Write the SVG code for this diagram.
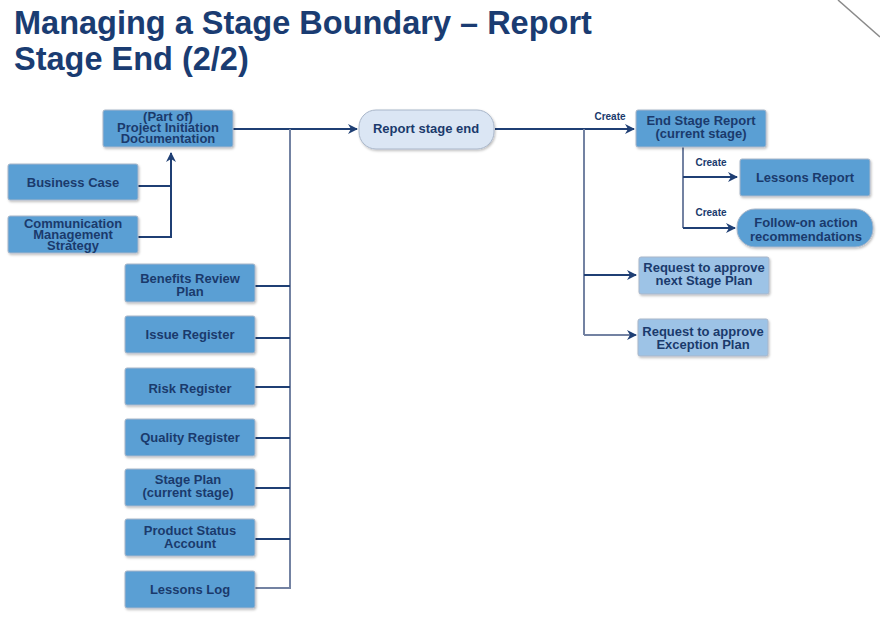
<svg xmlns="http://www.w3.org/2000/svg" width="880" height="618" viewBox="0 0 880 618">
<defs>
<marker id="arr" viewBox="0 0 10 10" refX="9" refY="5" markerWidth="10" markerHeight="10" markerUnits="userSpaceOnUse" orient="auto">
<path d="M0,0 L10,5 L0,10 L3,5 Z" fill="#1f3f74"/>
</marker>
<filter id="sh" x="-10%" y="-10%" width="130%" height="140%">
<feDropShadow dx="1" dy="1.5" stdDeviation="1" flood-color="#000" flood-opacity="0.25"/>
</filter>
</defs>
<style>
.title{font-family:"Liberation Sans",Arial,sans-serif;font-weight:bold;font-size:32.5px;fill:#1a3c72}
.box{fill:#5a9fd4;stroke:#a9b6c9;stroke-width:1;filter:url(#sh)}
.lbox{fill:#9dc3e6;stroke:#a9b6c9;stroke-width:1;filter:url(#sh)}
.pill{fill:#dbe6f4;stroke:#a9b6c9;stroke-width:1;filter:url(#sh)}
.t{font-family:"Liberation Sans",Arial,sans-serif;font-weight:bold;font-size:13px;fill:#1a3a6c;text-anchor:middle}
.c{font-family:"Liberation Sans",Arial,sans-serif;font-weight:bold;font-size:10px;fill:#1a3a6c;text-anchor:middle}
.h{stroke:#1f3f74;stroke-width:2;fill:none}
.v{stroke:#7382a2;stroke-width:2;fill:none}
</style>
<rect width="880" height="618" fill="#fff"/>
<line x1="838" y1="0" x2="880" y2="37" stroke="#8a8a8a" stroke-width="1.5"/>
<text class="title" x="14" y="34">Managing a Stage Boundary – Report</text>
<text class="title" x="14" y="70">Stage End (2/2)</text>

<g id="connectors">
<polyline class="h" points="138,186 171,186 171,153" marker-end="url(#arr)"/>
<polyline class="h" points="138,237 171,237 171,186"/>
<line class="h" x1="233" y1="129" x2="357" y2="129" marker-end="url(#arr)"/>
<line class="v" x1="290" y1="129" x2="290" y2="589"/>
<line class="h" x1="255" y1="286" x2="290" y2="286"/>
<line class="h" x1="255" y1="338" x2="290" y2="338"/>
<line class="h" x1="255" y1="387" x2="290" y2="387"/>
<line class="h" x1="255" y1="438" x2="290" y2="438"/>
<line class="h" x1="255" y1="488" x2="290" y2="488"/>
<line class="h" x1="255" y1="539" x2="290" y2="539"/>
<line class="v" x1="255" y1="588" x2="290" y2="588"/>
<line class="h" x1="495" y1="129" x2="634" y2="129" marker-end="url(#arr)"/>
<line class="v" x1="584" y1="129" x2="584" y2="335"/>
<line class="h" x1="584" y1="275" x2="636" y2="275" marker-end="url(#arr)"/>
<line class="v" x1="584" y1="335" x2="636" y2="335" marker-end="url(#arr)"/>
<line class="v" x1="683" y1="147" x2="683" y2="228"/>
<line class="h" x1="683" y1="177" x2="737" y2="177" marker-end="url(#arr)"/>
<line class="h" x1="683" y1="228" x2="735" y2="228" marker-end="url(#arr)"/>
<text class="c" x="610" y="120">Create</text>
<text class="c" x="711" y="166">Create</text>
<text class="c" x="711" y="216">Create</text>
</g>

<g id="pid"><rect class="box" x="103" y="110" width="130" height="37" rx="2"/>
<text class="t" x="168" y="121">(Part of)</text><text class="t" x="168" y="132">Project Initiation</text><text class="t" x="168" y="143">Documentation</text></g>
<g id="business-case"><rect class="box" x="8" y="164" width="130" height="36" rx="2"/>
<text class="t" x="73" y="187">Business Case</text></g>
<g id="comm-strategy"><rect class="box" x="8" y="216" width="130" height="37" rx="2"/>
<text class="t" x="73" y="228">Communication</text><text class="t" x="73" y="239">Management</text><text class="t" x="73" y="250">Strategy</text></g>

<g id="benefits-review"><rect class="box" x="125" y="264" width="130" height="38" rx="2"/>
<text class="t" x="190" y="283">Benefits Review</text><text class="t" x="190" y="296">Plan</text></g>
<g id="issue-register"><rect class="box" x="125" y="316" width="130" height="37" rx="2"/>
<text class="t" x="190" y="339">Issue Register</text></g>
<g id="risk-register"><rect class="box" x="125" y="368" width="130" height="37" rx="2"/>
<text class="t" x="190" y="393">Risk Register</text></g>
<g id="quality-register"><rect class="box" x="125" y="419" width="130" height="37" rx="2"/>
<text class="t" x="190" y="442">Quality Register</text></g>
<g id="stage-plan"><rect class="box" x="125" y="469" width="130" height="37" rx="2"/>
<text class="t" x="188" y="484">Stage Plan</text><text class="t" x="188" y="497">(current stage)</text></g>
<g id="product-status"><rect class="box" x="125" y="519" width="130" height="37" rx="2"/>
<text class="t" x="190" y="535">Product Status</text><text class="t" x="190" y="548">Account</text></g>
<g id="lessons-log"><rect class="box" x="125" y="571" width="130" height="37" rx="2"/>
<text class="t" x="190" y="594">Lessons Log</text></g>

<g id="report-stage-end"><rect class="pill" x="359" y="110" width="135" height="39" rx="17"/>
<text class="t" x="426" y="133">Report stage end</text></g>

<g id="end-stage-report"><rect class="box" x="636" y="110" width="130" height="37" rx="2"/>
<text class="t" x="701" y="125">End Stage Report</text><text class="t" x="701" y="138">(current stage)</text></g>
<g id="lessons-report"><rect class="box" x="740" y="159" width="130" height="37" rx="2"/>
<text class="t" x="805" y="182">Lessons Report</text></g>
<g id="follow-on"><rect class="box" x="737" y="209" width="136" height="38" rx="18"/>
<text class="t" x="806" y="227">Follow-on action</text><text class="t" x="806" y="241">recommendations</text></g>
<g id="req-next-stage"><rect class="lbox" x="639" y="257" width="130" height="37" rx="2"/>
<text class="t" x="704" y="272">Request to approve</text><text class="t" x="704" y="285">next Stage Plan</text></g>
<g id="req-exception"><rect class="lbox" x="638" y="319" width="130" height="37" rx="2"/>
<text class="t" x="703" y="336">Request to approve</text><text class="t" x="703" y="349">Exception Plan</text></g>
</svg>
